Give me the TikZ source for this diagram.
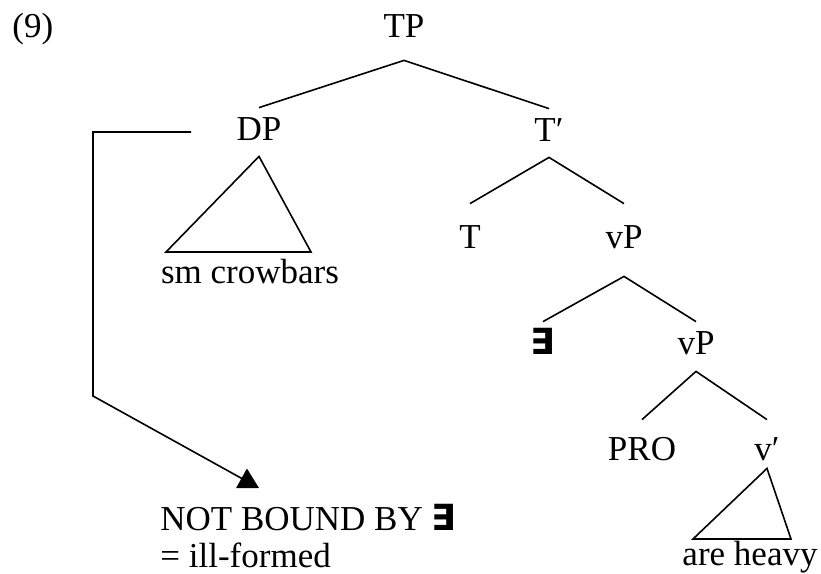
\documentclass[tikz,border=0pt]{standalone}
\usepackage{fontspec}
\setmainfont{Liberation Serif}
\newfontfamily\exfont{DejaVu Sans}
\usepackage{tikz}
\usetikzlibrary{
  positioning,
  calc,
  arrows.meta
}
\tikzstyle{cat}=[inner sep=0pt, anchor=base, font=\fontsize{17.5}{21}\selectfont]
\tikzstyle{branch}=[line width=0.8pt, line join=miter]
\tikzstyle{bind}=[line width=0.8pt, -{Triangle[length=10pt, width=11pt]}]
\newcommand{\Ex}{{\exfont\bfseries\fontsize{18}{20}\selectfont ∃}}

\begin{document}
\begin{tikzpicture}[x=0.5pt, y=-0.5pt]
      \useasboundingbox (0,0) rectangle (821,574);

      % 例文番号
      \node[cat, anchor=base west] (num) at (12,37) {(9)};

      % 範疇ラベル
      \node[cat, text height=11pt, text depth=11.5pt] (TP) at (404,37) {TP};
      \node[cat, text height=16pt, text depth=8pt] (DP) at (259,140) {DP};
      \node[cat, text height=16pt, text depth=8pt] (Tbar) at (549,141) {T′};
      \node[cat, text height=22pt] (T) at (470,248) {T};
      \node[cat, text height=22pt, text depth=14pt] (vP) at (624,248) {vP};
      \node[cat, text height=16pt] (ex) at (543,354) {\Ex};
      \node[cat, text height=16pt, text depth=8.5pt] (vPb) at (696,354) {vP};
      \node[cat, text height=20pt] (PRO) at (642,460) {PRO};
      \node[cat, text height=20pt, text depth=4pt] (vbar) at (767,460) {v′};

      % 三角形の底辺
      \coordinate (crow-l) at (166,252);
      \coordinate (crow-r) at (311,252);
      \coordinate (heavy-l) at (693,539);
      \coordinate (heavy-r) at (791,539);

      % 終端の語
      \node[cat] (crow) at (250,283) {sm crowbars};
      \node[cat] (heavy) at (750,565) {are heavy};

      % 注記
      \node[cat, anchor=base west] (note) at (160,530) {NOT BOUND BY \Ex};
      \node[cat, anchor=base west] (ill) at (160,567) {= ill-formed};

      % 枝
      \draw[branch] (DP.north) -- (TP.south) -- (Tbar.north);
      \draw[branch] (T.north) -- (Tbar.south) -- (vP.north);
      \draw[branch] (ex.north) -- (vP.south) -- (vPb.north);
      \draw[branch] (PRO.north) -- (vPb.south) -- (vbar.north);

      % 三角形
      \draw[branch] (DP.south) -- (crow-l) -- (crow-r) -- cycle;
      \draw[branch] (vbar.south) -- (heavy-l) -- (heavy-r) -- cycle;

      % 束縛を表す矢印
      \coordinate (bind-start) at (191,132);
      \coordinate (bind-corner) at (93,396);
      \coordinate (bind-end) at (259,488);
      \draw[bind] (bind-start) -| (bind-corner) -- (bind-end);
    \end{tikzpicture}
\end{document}
